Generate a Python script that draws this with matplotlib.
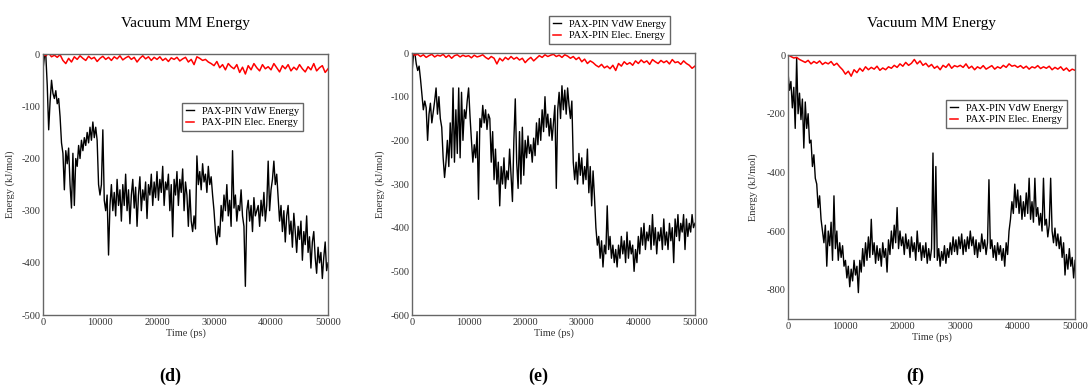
import matplotlib.pyplot as plt
import numpy as np

plt.rcParams["font.family"] = ["Liberation Serif", "DejaVu Serif"]
plt.rcParams["axes.unicode_minus"] = False

# ── Data (kJ/mol) ──────────────────────────────────────────────
# VdW sampled every 250 ps, Elec every 500 ps, 0..50000 ps
vdw_d = [
    -30, -5, -2, -60, -145, -90, -50, -75, -85, -70, -95, -85, -120, -170, -190, -260, -185, -210, -180, -250,
    -295, -190, -290, -200, -215, -175, -200, -165, -185, -160, -175, -150, -170, -140, -165, -130, -160, -140, -165, -250,
    -270, -250, -145, -280, -300, -270, -385, -290, -250, -300, -265, -310, -240, -290, -260, -320, -250, -290, -230, -300,
    -260, -325, -270, -240, -295, -255, -330, -270, -235, -300, -260, -280, -245, -315, -250, -270, -230, -290, -245, -275,
    -225, -280, -240, -265, -215, -290, -245, -260, -230, -300, -250, -350, -240, -270, -225, -290, -240, -265, -220, -300,
    -245, -270, -330, -260, -320, -340, -310, -335, -195, -250, -225, -260, -210, -245, -230, -265, -215, -250, -235, -270,
    -300, -340, -365, -330, -350, -290, -320, -270, -300, -250, -310, -280, -330, -185, -295, -270, -320, -290, -300, -260,
    -310, -330, -445, -300, -280, -320, -290, -340, -275, -310, -300, -290, -330, -280, -310, -265, -320, -290, -205, -300,
    -260, -240, -205, -250, -230, -275, -320, -290, -340, -300, -360, -310, -290, -345, -320, -370, -305, -340, -380, -330,
    -355, -320, -395, -340, -365, -310, -380, -350, -410, -360, -340, -390, -420, -370, -400, -380, -430, -390, -360, -415,
    -400,
]
elec_d = [
    0, -3, 2, -5, -2, -6, -1, -12, -18, -8,
    -15, -5, -10, -3, -8, -12, -4, -9, -6, -14,
    -8, -4, -10, -6, -12, -5, -9, -3, -11, -7,
    -4, -10, -6, -15, -8, -3, -9, -5, -12, -6,
    -10, -5, -12, -8, -14, -7, -10, -6, -13, -9,
    -6, -15, -10, -20, -5, -8, -12, -10, -15, -18,
    -22, -14, -26, -20, -30, -18, -24, -28, -20, -35,
    -25, -38, -22, -30, -18, -26, -32, -20, -28, -24,
    -30, -18, -26, -34, -22, -28, -20, -32, -25, -30,
    -20, -28, -34, -24, -30, -18, -32, -26, -22, -35,
    -28,
]

vdw_e = [
    -45, -5, 0, -25, -40, -30, -60, -95, -130, -110, -125, -200, -140, -115, -160, -135, -110, -80, -140, -100,
    -150, -170, -240, -285, -250, -200, -260, -160, -240, -80, -250, -130, -230, -80, -240, -90, -200, -130, -150, -110,
    -80, -145, -200, -250, -210, -240, -180, -335, -150, -170, -120, -160, -130, -175, -140, -150, -250, -180, -290, -220,
    -300, -250, -350, -260, -300, -240, -310, -270, -290, -220, -280, -340, -200, -105, -250, -310, -180, -300, -170, -280,
    -200, -240, -190, -230, -210, -250, -195, -235, -160, -210, -150, -200, -130, -180, -100, -170, -140, -190, -150, -200,
    -160, -120, -310, -130, -90, -150, -75, -130, -85, -140, -80, -120, -150, -110, -250, -290, -250, -300, -230, -280,
    -240, -300, -260, -290, -220, -320, -260, -350, -270, -330, -400, -440, -420, -470, -430, -490, -440, -460, -350, -450,
    -420, -470, -440, -480, -450, -490, -440, -470, -420, -460, -430, -480, -410, -470, -430, -460, -440, -500, -450, -480,
    -420, -460, -400, -440, -390, -450, -410, -430, -395, -450, -370, -440, -400, -460, -410, -430, -400, -450, -380, -440,
    -410, -450, -390, -430, -400, -480, -380, -420, -370, -430, -390, -410, -370, -450, -380, -420, -390, -410, -370, -400,
    -390,
]
elec_e = [
    -2, -5, -3, -8, -4, -10, -6, -3, -9, -5,
    -7, -3, -10, -5, -12, -6, -4, -9, -5, -8,
    -6, -11, -5, -9, -7, -4, -10, -14, -8, -12,
    -25, -12, -18, -10, -15, -8, -14, -10, -16, -12,
    -22, -15, -10, -18, -12, -6, -10, -4, -8, -5,
    -3, -8, -5, -10, -4, -7, -12, -8, -15, -10,
    -20, -14, -24, -18, -22, -28, -32, -26, -34, -30,
    -36, -28, -40, -24, -30, -20, -26, -22, -28, -18,
    -24, -16, -22, -18, -26, -15, -20, -24, -17, -22,
    -18, -25, -15, -22, -20, -26, -18, -24, -28, -35,
    -30,
]

vdw_f = [
    -60, -120, -90, -180, -110, -250, -10, -200, -130, -220, -150, -317, -160, -250, -200, -300, -290, -380, -340, -420,
    -440, -520, -480, -560, -600, -640, -580, -720, -600, -650, -570, -700, -480, -660, -600, -700, -640, -690, -650, -720,
    -700, -760, -720, -790, -730, -770, -700, -750, -720, -810, -700, -740, -660, -720, -640, -700, -620, -690, -560, -680,
    -640, -710, -650, -700, -660, -720, -640, -690, -660, -740, -630, -680, -600, -660, -580, -640, -520, -660, -600, -650,
    -620, -680, -610, -660, -630, -690, -620, -670, -640, -700, -600, -670, -640, -700, -650, -690, -640, -710, -660, -700,
    -660, -334, -690, -380, -700, -660, -720, -670, -700, -650, -710, -660, -690, -640, -680, -620, -670, -630, -680, -620,
    -660, -610, -680, -630, -670, -620, -660, -600, -650, -620, -680, -630, -690, -640, -670, -610, -660, -630, -680, -640,
    -425, -660, -630, -690, -650, -700, -640, -680, -650, -700, -660, -720, -640, -680, -600, -560, -500, -540, -440, -520,
    -460, -540, -480, -560, -500, -550, -470, -540, -420, -560, -500, -570, -420, -550, -520, -580, -540, -600, -420, -580,
    -560, -620, -580, -420, -600, -640, -590, -650, -610, -660, -620, -690, -640, -750, -680, -730, -660, -720, -690, -760,
    -700,
]
elec_f = [
    0, -5, -10, -8, -15, -20, -25, -18, -30, -22,
    -28, -20, -32, -25, -30, -22, -35, -28, -40, -50,
    -65, -55, -72, -50, -60, -45, -55, -40, -50, -42,
    -48, -38, -52, -44, -50, -40, -45, -35, -42, -30,
    -38, -25, -35, -28, -15, -30, -20, -35, -28, -40,
    -32, -45, -38, -50, -35, -42, -30, -45, -36, -40,
    -35, -42, -30, -45, -38, -50, -40, -46, -36, -48,
    -42, -36, -48, -40, -45, -35, -42, -30, -38, -35,
    -42, -36, -45, -38, -48, -40, -44, -36, -46, -40,
    -45, -38, -50, -42, -48, -40, -52, -44, -55, -48,
    -52,
]

t_vdw = np.arange(len(vdw_d)) * 250
t_elec = np.arange(len(elec_d)) * 500

panels = [
    # (vdw, elec, ylim, yticks, title, letter, rect, legend anchor, ylabel x)
    (vdw_d, elec_d, (-500, 0), np.arange(-500, 1, 100), "Vacuum MM Energy", "d",
     [0.0395, 0.186, 0.262, 0.674], (0.2785, 0.734), -0.098),
    (vdw_e, elec_e, (-600, 0), np.arange(-600, 1, 100), None, "e",
     [0.3787, 0.186, 0.260, 0.677], (0.6158, 0.959), -0.095),
    (vdw_f, elec_f, (-900, 0), np.arange(-800, 1, 200), "Vacuum MM Energy", "f",
     [0.7243, 0.1757, 0.2638, 0.682], (0.9807, 0.742), -0.105),
]
letter_x = [170, 538, 915]

fig = plt.figure(figsize=(10.88, 3.87), dpi=100)

for (vdw, elec, ylim, yt, title, letter, rect, anchor, ylx), lx in zip(panels, letter_x):
    ax = fig.add_axes(rect)
    ax.plot(t_vdw, vdw, color="black", lw=1.0, label="PAX-PIN VdW Energy")
    ax.plot(t_elec, elec, color="#ff0000", lw=1.1, label="PAX-PIN Elec. Energy")
    ax.set_xlim(0, 50000)
    ax.set_ylim(*ylim)
    ax.set_xticks(np.arange(0, 50001, 10000))
    ax.set_yticks(yt)
    ax.tick_params(length=0, labelsize=7.5, pad=2, colors="#333333")
    for s in ax.spines.values():
        s.set_color("#666666")
        s.set_linewidth(1.0)
    ax.set_xlabel("Time (ps)", fontsize=7.5, labelpad=1, color="#333333")
    ax.set_ylabel("Energy (kJ/mol)", fontsize=7.5, color="#333333")
    ax.yaxis.set_label_coords(ylx, 0.5)
    if title:
        fig.text(rect[0] + rect[2] / 2, 0.94, title, ha="center", va="center", fontsize=11)
    leg = ax.legend(loc="upper right", bbox_to_anchor=anchor, bbox_transform=fig.transFigure,
                    borderaxespad=0, fontsize=7.5, handlelength=0.8, handletextpad=0.8,
                    fancybox=False, framealpha=1, borderpad=0.35, labelspacing=0.2)
    leg.get_frame().set_edgecolor("#666666")
    leg.get_frame().set_linewidth(1.0)
    fig.text(lx / 1088, 1 - 376 / 387, "(" + letter + ")", ha="center", va="center",
             fontsize=13, fontweight="bold")

plt.savefig("out.png", dpi=100)
